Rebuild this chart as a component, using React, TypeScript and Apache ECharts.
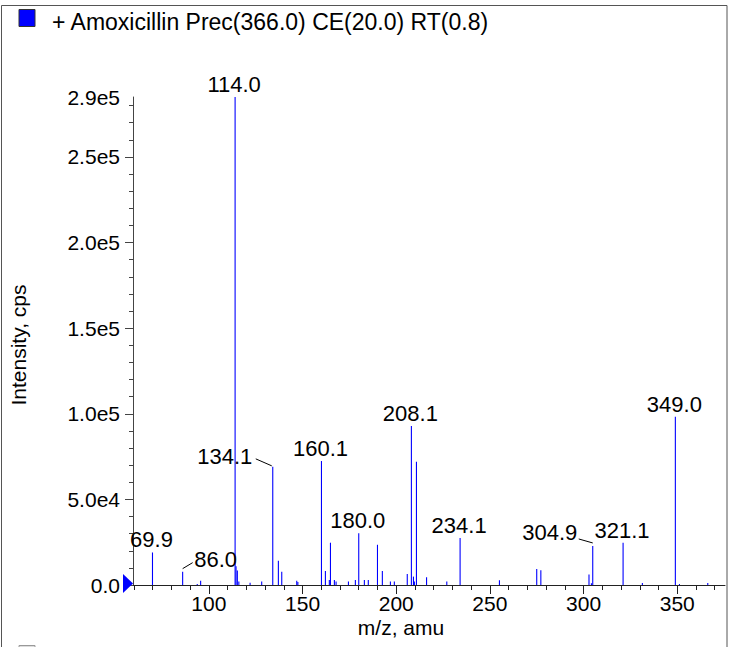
import React, { useEffect, useRef } from "react";
import * as echarts from "echarts";

// ---- data ----
const peakMz = [
  69.9, 86.0, 93.8, 95.6, 114.0, 114.5, 115.2, 116.0, 122.0, 128.2, 134.1, 137.1, 138.9,
  146.9, 147.5, 160.1, 162.2, 164.3, 164.9, 167.0, 167.9, 174.5, 178.2, 180.0, 183.0,
  185.1, 190.0, 192.6, 196.9, 199.0, 205.9, 208.1, 209.2, 209.7, 210.8, 216.2, 227.0,
  234.1, 255.1, 275.0, 277.2, 302.9, 304.2, 304.9, 321.1, 331.4, 349.0, 351.2, 366.3,
];
const peakIntensity = [
  19000, 7800, 600, 2500, 285000, 11000, 8400, 2000, 1300, 2000, 69000, 14200, 7800,
  2500, 1800, 72400, 8200, 2900, 24700, 2900, 2000, 2000, 2900, 30200, 2900,
  2900, 23500, 8200, 2000, 2000, 6400, 92900, 4900, 2000, 72000, 4500, 2000,
  27500, 2800, 9300, 8600, 6200, 1000, 22800, 24700, 1200, 98300, 600, 1200,
];
const labeledPeaks = ["69.9", "86.0", "114.0", "134.1", "160.1", "180.0", "208.1", "234.1", "304.9", "321.1", "349.0"];

const titleText = "+ Amoxicillin Prec(366.0) CE(20.0) RT(0.8)";
const xAxisTitle = "m/z, amu";
const yAxisTitle = "Intensity, cps";

const xMin = 59.5;
const xMax = 375.5;
const yMin = 0;
const yMax = 285000;
const xMajorTicks = [100, 150, 200, 250, 300, 350];
const xMinorTicks = [60, 70, 80, 90, 110, 120, 130, 140, 160, 170, 180, 190, 210, 220, 230, 240, 260, 270, 280, 290, 310, 320, 330, 340, 360, 370];
const yMajorTicks = [0, 50000, 100000, 150000, 200000, 250000];
const yMinorTicks = [10000, 20000, 30000, 40000, 60000, 70000, 80000, 90000, 110000, 120000, 130000, 140000, 160000, 170000, 180000, 190000, 210000, 220000, 230000, 240000, 260000, 270000, 280000];
const yLabelValues = [0, 50000, 100000, 150000, 200000, 250000, 285000];
const yTickLabels = ["0.0", "5.0e4", "1.0e5", "1.5e5", "2.0e5", "2.5e5", "2.9e5"];

// ---- label placement (pixel offsets from the peak top) ----
const labelPlacement: Record<string, { dx: number; dy: number; leader?: number[] }> = {
  "86.0": { dx: 33, dy: -12, leader: [0, -3, 10, -9] },
  "134.1": { dx: -48, dy: -10, leader: [-17, -8, -1, -1] },
  "304.9": { dx: -43, dy: -13, leader: [-14, -7, 0, -3] },
};
const defaultPlacement = { dx: -1, dy: -12.5 };

const FONT = '"Liberation Sans", Arial, Helvetica, sans-serif';
const GRID = { left: 133, top: 97, right: 5, bottom: 62 };

export default function App() {
  const ref = useRef<HTMLDivElement>(null);

  useEffect(() => {
    if (!ref.current) return;
    const chart = echarts.init(ref.current, null, { renderer: "svg" });

    const stickData = peakMz.map((m, i) => [m, peakIntensity[i]]);
    const labelData = labeledPeaks.map((t) => {
      const m = parseFloat(t);
      let best = 0;
      peakMz.forEach((v, i) => {
        if (Math.abs(v - m) < Math.abs(peakMz[best] - m)) best = i;
      });
      return [peakMz[best], peakIntensity[best]];
    });

    const axisColor = "#222";
    const baseY = 647 - GRID.bottom;

    const option: any = {
      animation: false,
      backgroundColor: "#fff",
      textStyle: { fontFamily: FONT },
      grid: { ...GRID, containLabel: false, outerBoundsMode: "none" },
      xAxis: [
        {
          type: "value",
          min: xMin,
          max: xMax,
          position: "bottom",
          splitLine: { show: false },
          axisLine: { show: true, onZero: false, lineStyle: { color: axisColor, width: 1 } },
          axisTick: { show: true, customValues: xMajorTicks, length: 9, lineStyle: { color: axisColor } },
          axisLabel: {
            show: true,
            customValues: xMajorTicks,
            color: "#000",
            fontSize: 21,
            fontFamily: FONT,
            margin: 8,
            formatter: (v: number) => String(v),
          },
        },
        {
          type: "value",
          min: xMin,
          max: xMax,
          position: "bottom",
          splitLine: { show: false },
          axisLine: { show: false, onZero: false },
          axisTick: { show: true, customValues: xMinorTicks, length: 5, lineStyle: { color: axisColor } },
          axisLabel: { show: false },
        },
      ],
      yAxis: [
        {
          type: "value",
          min: yMin,
          max: yMax,
          position: "left",
          splitLine: { show: false },
          axisLine: { show: true, onZero: false, lineStyle: { color: "#444", width: 1 } },
          axisTick: { show: true, customValues: yMajorTicks, length: 8, lineStyle: { color: "#444" } },
          axisLabel: {
            show: true,
            customValues: yLabelValues,
            color: "#000",
            fontSize: 21,
            fontFamily: FONT,
            margin: 13,
            formatter: (v: number) => {
              const idx = yLabelValues.indexOf(v);
              return idx >= 0 ? yTickLabels[idx] : "";
            },
          },
        },
        {
          type: "value",
          min: yMin,
          max: yMax,
          position: "left",
          splitLine: { show: false },
          axisLine: { show: false, onZero: false },
          axisTick: { show: true, customValues: yMinorTicks, length: 4, lineStyle: { color: "#444" } },
          axisLabel: { show: false },
        },
      ],
      series: [
        {
          type: "custom",
          name: "sticks",
          xAxisIndex: 0,
          yAxisIndex: 0,
          silent: true,
          clip: true,
          data: stickData,
          renderItem: (_params: any, api: any) => {
            const top = api.coord([api.value(0), api.value(1)]);
            const base = api.coord([api.value(0), 0]);
            return {
              type: "line",
              shape: { x1: top[0], y1: top[1], x2: base[0], y2: base[1] },
              style: { stroke: "#0000ff", lineWidth: 1.1 },
            };
          },
        },
        {
          type: "custom",
          name: "labels",
          xAxisIndex: 0,
          yAxisIndex: 0,
          silent: true,
          clip: false,
          data: labelData,
          renderItem: (params: any, api: any) => {
            const text = labeledPeaks[params.dataIndex];
            const p = api.coord([api.value(0), api.value(1)]);
            const place = labelPlacement[text] || defaultPlacement;
            const children: any[] = [
              {
                type: "text",
                x: p[0] + place.dx,
                y: p[1] + place.dy,
                style: {
                  text,
                  fill: "#000",
                  fontSize: 22,
                  fontFamily: FONT,
                  textAlign: "center",
                  textVerticalAlign: "middle",
                },
              },
            ];
            if (place.leader) {
              const l = place.leader;
              children.push({
                type: "line",
                shape: { x1: p[0] + l[0], y1: p[1] + l[1], x2: p[0] + l[2], y2: p[1] + l[3] },
                style: { stroke: "#000", lineWidth: 1 },
              });
            }
            return { type: "group", children };
          },
        },
      ],
      graphic: [
        {
          type: "rect",
          shape: { x: 1.5, y: 5.5, width: 725.5, height: 700 },
          style: { fill: "none", stroke: "#555", lineWidth: 1 },
          silent: true,
          z: 0,
        },
        {
          type: "rect",
          shape: { x: 19, y: 9.5, width: 16, height: 17 },
          style: { fill: "#0000ff", stroke: "#333", lineWidth: 1 },
        },
        {
          type: "text",
          x: 52,
          y: 22,
          style: {
            text: titleText,
            fill: "#000",
            fontSize: 23,
            fontFamily: FONT,
            textAlign: "left",
            textVerticalAlign: "middle",
          },
        },
        {
          type: "text",
          x: 401,
          y: 627,
          style: {
            text: xAxisTitle,
            fill: "#000",
            fontSize: 21,
            fontFamily: FONT,
            textAlign: "center",
            textVerticalAlign: "middle",
          },
        },
        {
          type: "text",
          x: 18,
          y: 345,
          rotation: Math.PI / 2,
          style: {
            text: yAxisTitle,
            fill: "#000",
            fontSize: 21,
            fontFamily: FONT,
            textAlign: "center",
            textVerticalAlign: "middle",
          },
        },
        {
          type: "polygon",
          shape: {
            points: [
              [GRID.left - 10, baseY - 11],
              [GRID.left, baseY - 1.5],
              [GRID.left - 10, baseY + 8],
            ],
          },
          style: { fill: "#0000ff" },
          z: 10,
        },
        {
          type: "rect",
          shape: { x: 19, y: 645.5, width: 16, height: 17 },
          style: { fill: "#ddd", stroke: "#999", lineWidth: 1 },
        },
      ],
    };

    chart.setOption(option);
    return () => chart.dispose();
  }, []);

  return (
    <div
      ref={ref}
      style={{ position: "fixed", left: 0, top: 0, width: 730, height: 647, background: "#fff" }}
    />
  );
}
